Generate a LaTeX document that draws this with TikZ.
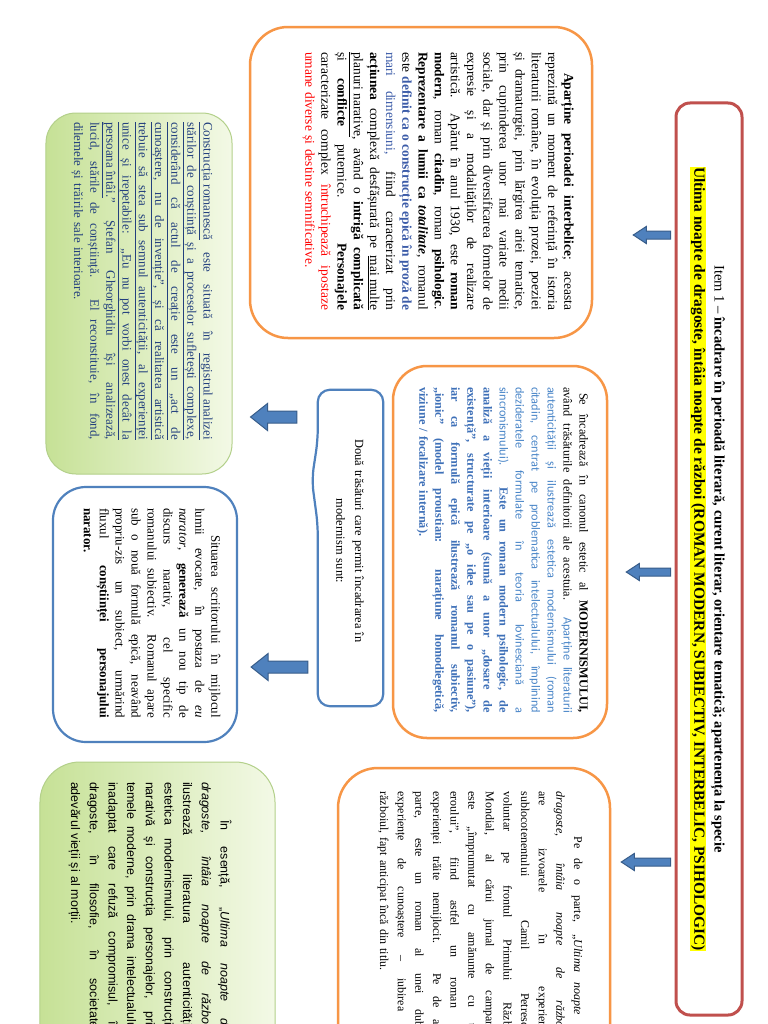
\documentclass[tikz,border=0pt]{standalone}
\usepackage{fontspec}
\setmainfont{Liberation Serif}
\newfontfamily\arialf{Liberation Sans}
\newfontfamily\calf{Carlito}
\usetikzlibrary{calc}
\definecolor{orangeb}{HTML}{F79646}
\definecolor{redb}{HTML}{C0504D}
\definecolor{blueb}{HTML}{4F81BD}
\definecolor{arrowfill}{HTML}{4F81BD}
\definecolor{arrowedge}{HTML}{385D8A}
\definecolor{greenl}{HTML}{C6E196}
\definecolor{greenr}{HTML}{F3F9E6}
\definecolor{greenedge}{HTML}{B3D08A}
\definecolor{navy}{HTML}{23407E}
\definecolor{bluetxt}{HTML}{3E70B8}
\definecolor{bluelight}{HTML}{4A86C8}
\definecolor{bluedef}{HTML}{3B5BA8}
\definecolor{hl}{HTML}{FFFF00}
\definecolor{redtxt}{HTML}{FF0000}
\newsavebox\jlbox
\newcommand\jb[1]{\sbox\jlbox{\spaceskip=0pt\xspaceskip=0pt\relax#1}%
  \ifdim\wd\jlbox>\hsize\resizebox{\hsize}{!}{\usebox\jlbox}%
  \else\makebox[\hsize][s]{\spaceskip=0pt\xspaceskip=0pt\relax#1}\fi}
\newcommand\jl[1]{\jb{#1}\\}
\newcommand\undl[1]{\underline{#1}}
\newcommand\barrow[5]{%
  \filldraw[blockarrow] ($(#1)+(0,#3)$) -- ($(#2)+(#5,#3)$) -- ($(#2)+(#5,#4)$) -- (#2)
    -- ($(#2)+(#5,-#4)$) -- ($(#2)+(#5,-#3)$) -- ($(#1)+(0,-#3)$) -- cycle;}
\begin{document}
\begin{tikzpicture}[x=1bp,y=-1bp,
  orangebox/.style={draw=orangeb, line width=2.5bp, inner sep=0},
  bluebox/.style={draw=blueb, line width=2.2bp, inner sep=0},
  greenbox/.style={draw=greenedge, line width=1bp, left color=greenl, right color=greenr, inner sep=0},
  txt/.style={rotate=-90, inner sep=0, align=left},
  blockarrow/.style={fill=arrowfill, draw=arrowedge, line width=1bp, line join=miter}]
\useasboundingbox (0,0) rectangle (768,1024);
\fill[white] (0,0) rectangle (768,1024);
\clip (0,0) rectangle (768,1024);

% ---------- boxes ----------
\node[draw=redb, line width=3bp, rounded corners=14bp, minimum width=66bp, minimum height=912bp, inner sep=0] (title) at (709,559) {};
\node[orangebox, rounded corners=38bp, minimum width=342bp, minimum height=311bp] (boxA) at (421,182.5) {};
\node[orangebox, rounded corners=34bp, minimum width=214bp, minimum height=372bp] (boxB) at (500,552) {};
\node[greenbox, rounded corners=30bp, minimum width=186bp, minimum height=361bp] (boxC) at (139,293.5) {};
\node[inner sep=0, minimum width=65bp, minimum height=316bp] (boxD) at (350.5,548) {};
\draw[draw=blueb, line width=2.2bp, rounded corners=12bp]
  (boxD.north west) -- (boxD.north east) -- (boxD.south east) -- (boxD.south west)
  -- ($(boxD.north west)+(0,135)$) -- ($(boxD.north west)+(-6,90)$) -- ($(boxD.north west)+(0,50)$) -- cycle;
\node[bluebox, rounded corners=33bp, minimum width=184bp, minimum height=255bp] (boxE) at (145,614.5) {};
\node[greenbox, rounded corners=40bp, minimum width=235bp, minimum height=348bp] (boxF) at (157.5,936) {};
\node[orangebox, rounded corners=40bp, minimum width=272bp, minimum height=342bp] (boxG) at (474,939) {};

% ---------- title text ----------
\node[rotate=-90, inner sep=0, font=\fontsize{14.6}{20}\selectfont] (tT1) at (718,559)
  {Item 1 – \textbf{încadrare în perioadă literară, curent literar, orientare tematică; apartenența la specie}};
\node[rotate=-90, inner sep=0.5bp, fill=hl, font=\fontsize{15.5}{20}\selectfont\bfseries] (tT2) at (698,559)
  {Ultima noapte de dragoste, întâia noapte de război (ROMAN MODERN, SUBIECTIV, INTERBELIC, PSIHOLOGIC)};

% ---------- box A text ----------
\node[txt, text width=258bp, font=\fontsize{13.5}{16.25}\selectfont] (tA) at (438,181) {%
\jl{\hspace*{21bp}\textbf{Aparține perioadei interbelice}; aceasta}
\jl{reprezintă un moment de referință în istoria}
\jl{literaturii române, în evoluția prozei, poeziei}
\jl{și dramaturgiei, prin lărgirea ariei tematice,}
\jl{prin cuprinderea unor mai variate medii}
\jl{sociale, dar și prin diversificarea formelor de}
\jl{expresie și a modalităților de realizare}
\jl{artistică. Apărut în anul 1930, este \textbf{roman}}
\jl{\textbf{modern}, roman \textbf{citadin}, roman \textbf{psihologic}.}
\jl{\textbf{Reprezentare a lumii ca \textit{totalitate}}, romanul}
\jl{este \textcolor{bluedef}{\textbf{definit ca o construcție epică în proză de}}}
\jl{\textcolor{bluedef}{mari dimensiuni,} fiind caracterizat prin}
\jl{\textbf{acțiunea} complexă desfășurată pe \undl{mai multe}}
\jl{\undl{planuri narative}, având o \textbf{intrigă complicată}}
\jl{și \textbf{conflicte} puternice. \textbf{Personajele}}
\jl{caracterizate complex \textcolor{redtxt}{întruchipează ipostaze}}
\textcolor{redtxt}{umane diverse și destine semnificative.}};

% ---------- box B text ----------
\node[txt, text width=326bp, font=\fontsize{12.3}{16.1}\selectfont] (tB) at (502.5,550) {%
\jl{\hspace*{6bp}Se încadrează în canonul estetic al \textbf{MODERNISMULUI,}}
\jl{având trăsăturile definitorii ale acestuia. {\calf\color{bluelight}Aparține literaturii}}
\color{bluetxt}%
\jl{{\calf\color{bluelight}autenticității și ilustrează estetica modernismului (roman}}
\jl{{\calf\color{bluelight}citadin, centrat pe problematica intelectualului, împlinind}}
\jl{{\calf\color{bluelight}dezideratele formulate în teoria lovinesciană a}}
\jl{{\calf\color{bluelight}sincronismului).} \textbf{Este un roman modern psihologic, de}}
\jl{\textbf{analiză a vieții interioare (sumă a unor „dosare de}}
\jl{\textbf{existență”, structurate pe „o idee sau pe o pasiune”),}}
\jl{\textbf{iar ca formulă epică ilustrează romanul subiectiv,}}
\jl{\textbf{„ionic” (model proustian: narațiune homodiegetică,}}
\textbf{viziune / focalizare internă).}};

% ---------- box C text ----------
\node[txt, text width=318bp, text=navy, font=\fontsize{13}{16.25}\selectfont] (tC) at (142,281) {%
\jl{\undl{Construcția romanescă} este situată în \undl{registrul analizei}}
\undl{\jb{stărilor de conștiință și a proceselor sufletești complexe,}}\\
\undl{\jb{considerând că actul de creație este un „act de}}\\
\undl{\jb{cunoaștere, nu de invenție”, și că realitatea artistică}}\\
\undl{\jb{trebuie să stea sub semnul autenticității, al experienței}}\\
\undl{\jb{unice și irepetabile: „Eu nu pot vorbi onest decât la}}\\
\jl{\undl{persoana întâi.}” Ștefan Gheorghidiu își analizează,}
\jl{lucid, stările de conștiință. El reconstituie, în fond,}
dilemele și trăirile sale interioare.};

% ---------- box D text ----------
\node[rotate=-90, inner sep=0, align=center, text width=270bp, font=\fontsize{12.5}{19}\selectfont] (tD) at (350,541)
  {Două trăsături care permit încadrarea în\\ modernism sunt:};

% ---------- box E text ----------
\node[txt, text width=210bp, font=\fontsize{13}{16}\selectfont] (tE) at (152,613) {%
\jl{\hspace*{27bp}Situarea scriitorului în mijlocul}
\jl{lumii evocate, în postaza de \textit{eu}}
\jl{\textit{narator}, \textbf{generează} un nou tip de}
\jl{discurs narativ, cel specific}
\jl{romanului subiectiv. Romanul apare}
\jl{sub o nouă formulă epică, neavând}
\jl{propriu-zis un subiect, urmărind}
\jl{fluxul \textbf{conștiinței personajului}}
\textbf{narator.}};

% ---------- box F text ----------
\node[txt, text width=250bp, font=\arialf\fontsize{12.5}{18.75}\selectfont] (tF) at (150,907) {%
\jl{\hspace*{38bp}În esență, „\textit{Ultima noapte de}}
\jl{\textit{dragoste, întâia noapte de război}”}
\jl{ilustrează literatura autenticității,}
\jl{estetica modernismului, prin construcția}
\jl{narativă și construcția personajelor, prin}
\jl{temele moderne, prin drama intelectualului}
\jl{inadaptat care refuză compromisul, în}
\jl{dragoste, în filosofie, în societate,}
adevărul vieții și al morții.};

% ---------- box G text ----------
\node[txt, text width=245bp, font=\fontsize{12}{17.7}\selectfont] (tG) at (480,914) {%
\jl{\hspace*{45bp}Pe de o parte, „\textit{Ultima noapte de}}
\jl{\textit{dragoste, întâia noapte de război}”}
\jl{are izvoarele în experiența}
\jl{sublocotenentului Camil Petrescu,}
\jl{voluntar pe frontul Primului Război}
\jl{Mondial, al cărui jurnal de campanie}
\jl{este „împrumutat cu amănunte cu tot}
\jl{eroului”, fiind astfel un roman al}
\jl{experienței trăite nemijlocit. Pe de altă}
\jl{parte, este un roman al unei duble}
\jl{experiențe de cunoaștere – iubirea și}
războiul, fapt anticipat încă din titlu.};

% ---------- arrows ----------
\coordinate (a1s) at ($(title.west |- 0,235)+(-4,0)$);
\coordinate (a1e) at ($(boxA.east |- 0,235)+(40,0)$);
\coordinate (a2s) at ($(title.west |- 0,572)+(-4,0)$);
\coordinate (a2e) at ($(boxB.east |- 0,572)+(18,0)$);
\coordinate (a3s) at ($(title.west |- 0,862)+(-4,0)$);
\coordinate (a3e) at ($(boxG.east |- 0,862)+(10,0)$);
\coordinate (a4s) at ($(boxD.west |- 0,417)+(-21,0)$);
\coordinate (a4e) at ($(boxC.east |- 0,417)+(18,0)$);
\coordinate (a5s) at ($(boxD.west |- 0,667)+(-10,0)$);
\coordinate (a5e) at ($(boxE.east |- 0,667)+(13,0)$);
\barrow{a1s}{a1e}{4}{8.5}{13}
\barrow{a2s}{a2e}{4}{8.5}{13}
\barrow{a3s}{a3e}{4}{8.5}{13}
\barrow{a4s}{a4e}{6}{13.5}{17}
\barrow{a5s}{a5e}{6}{13.5}{17}
\end{tikzpicture}
\end{document}
